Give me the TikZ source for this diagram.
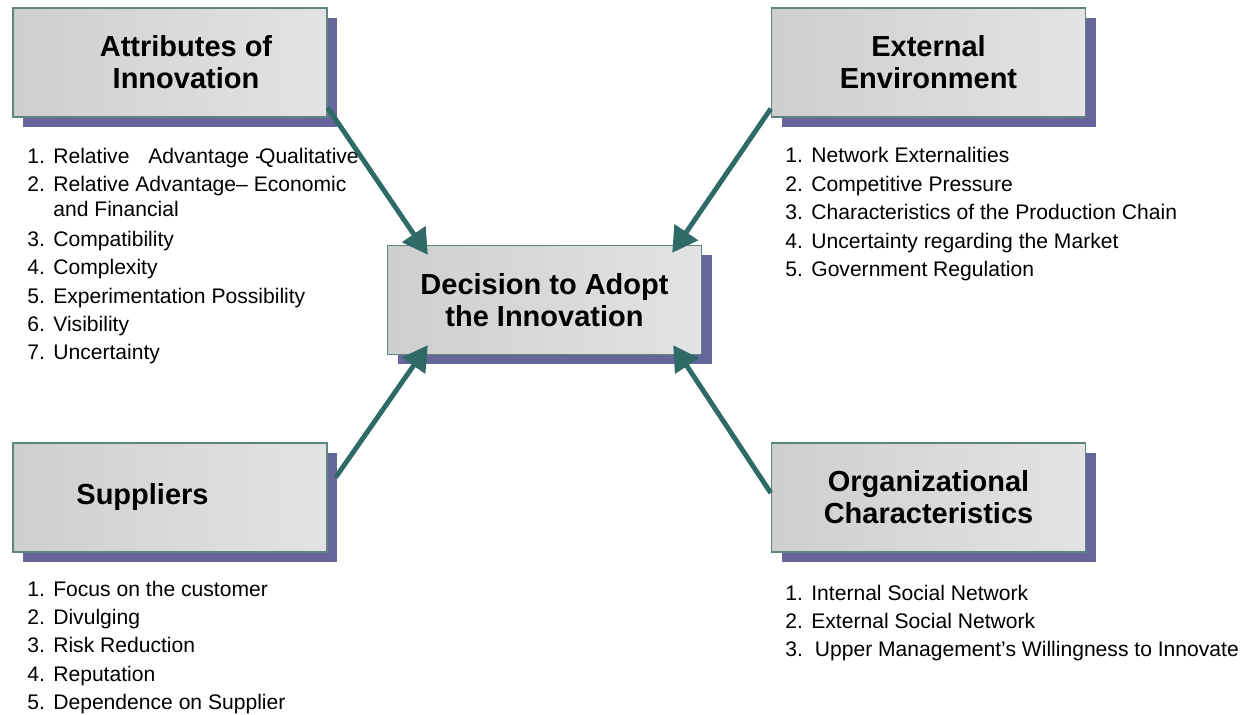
\documentclass[tikz,border=0pt]{standalone}
\usepackage{fontspec}
\setmainfont{Liberation Sans}
\usetikzlibrary{arrows.meta,shadows}

\definecolor{arrowteal}{HTML}{2F6B66}
\definecolor{boxshadow}{HTML}{66669A}
\definecolor{boxedge}{HTML}{5E8580}

\begin{document}
\begin{tikzpicture}[topic/.style={draw=boxedge, line width=0.8pt,
    left color=black!19, right color=black!11,
    minimum width=6.28cm, minimum height=2.18cm,
    inner sep=0pt, align=center,
    font=\fontsize{16.5}{18.2}\selectfont\bfseries,
    drop shadow={shadow xshift=0.2cm, shadow yshift=-0.2cm, fill=boxshadow, opacity=1}},
  itemlist/.style={anchor=base west, inner sep=0pt,
    font=\fontsize{12}{16.2}\selectfont},
  link/.style={arrowteal, line width=2.8pt,
    -{Triangle[length=0.5cm,width=0.55cm]}}]
 \useasboundingbox (0,0) rectangle (24.98,-14.3);

 % the five boxes
 \node[topic] (attr) at (3.40,-1.25) {\hspace*{0.64cm}Attributes of\\\hspace*{0.64cm}Innovation};
 \node[topic] (ext) at (18.57,-1.25) {External\\Environment};
 \node[topic] (dec) at (10.89,-6.00) {Decision to Adopt\\the Innovation};
 \node[topic] (sup) at (3.40,-9.95) {\hspace*{-1.1cm}Suppliers};
 \node[topic] (org) at (18.57,-9.95) {Organizational\\Characteristics};

 % lists under the boxes
 \node[itemlist] (attrlist) at (0.54,-3.27) {\begin{tabular}[t]{@{}p{0.52cm}@{}l@{}}
   1. & Relative\hspace{0.26cm} Advantage -\kern-1.7pt Qualitative\\
   2. & Relative Advantage– Economic\\[-2.5pt]
      & and Financial\\[0.9pt]
   3. & Compatibility\\
   4. & Complexity\\
   5. & Experimentation Possibility\\
   6. & Visibility\\
   7. & Uncertainty
   \end{tabular}};
 \node[itemlist] (extlist) at (15.70,-3.26) {\begin{tabular}[t]{@{}p{0.52cm}@{}l@{}}
   1. & Network Externalities\\
   2. & Competitive Pressure\\
   3. & Characteristics of the Production Chain\\
   4. & Uncertainty regarding the Market\\
   5. & Government Regulation
   \end{tabular}};
 \node[itemlist] (suplist) at (0.54,-11.92) {\begin{tabular}[t]{@{}p{0.52cm}@{}l@{}}
   1. & Focus on the customer\\
   2. & Divulging\\
   3. & Risk Reduction\\
   4. & Reputation\\
   5. & Dependence on Supplier
   \end{tabular}};
 \node[itemlist] (orglist) at (15.70,-12.00) {\begin{tabular}[t]{@{}p{0.52cm}@{}l@{}}
   1. & Internal Social Network\\
   2. & External Social Network\\
   3. & \,Upper Management’s Willingness to Innovate
   \end{tabular}};

 % arrows into the decision
 \draw[link] ([yshift=0.2cm]attr.south east) -- ([xshift=0.82cm,yshift=-0.2cm]dec.north west);
 \draw[link] ([yshift=0.18cm]ext.south west) -- ([xshift=-0.6cm,yshift=-0.16cm]dec.north east);
 \draw[link] ([xshift=0.16cm,yshift=-0.7cm]sup.north east) -- ([xshift=0.82cm,yshift=0.2cm]dec.south west);
 \draw[link] ([yshift=0.09cm]org.west) -- ([xshift=-0.58cm,yshift=0.2cm]dec.south east);
\end{tikzpicture}
\end{document}
